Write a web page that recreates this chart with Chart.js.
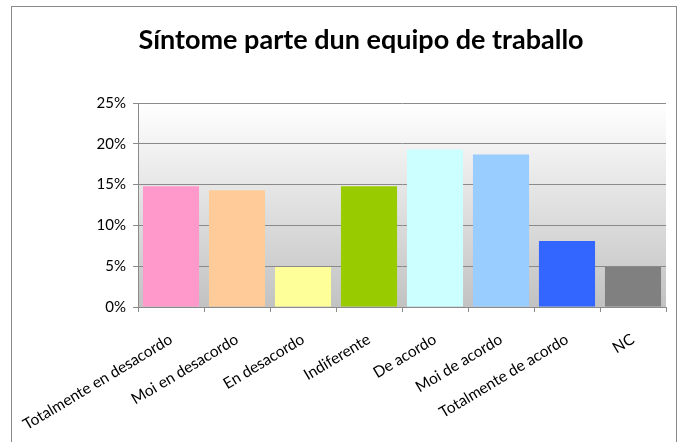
<!DOCTYPE html>
<html>
<head>
<meta charset="utf-8">
<script src="https://cdn.jsdelivr.net/npm/chart.js@4.4.1/dist/chart.umd.min.js"></script>
<style>
  html, body { margin: 0; padding: 0; background: #fff; overflow: hidden; }
  #box {
    position: absolute; left: 11px; top: 6px;
    width: 664px; height: 440px;
    border: 1px solid #8a8a8a; border-bottom: none;
  }
</style>
</head>
<body>
<div id="box"><canvas id="chart"></canvas></div>
<script>
const chartTitle = "Síntome parte dun equipo de traballo";
const categories = [
  "Totalmente en desacordo",
  "Moi en desacordo",
  "En desacordo",
  "Indiferente",
  "De acordo",
  "Moi de acordo",
  "Totalmente de acordo",
  "NC",
];
const values = [14.8, 14.3, 4.9, 14.8, 19.3, 18.7, 8.1, 4.9];
const barColors = ["#FF99CC", "#FFCC99", "#FFFF99", "#99CC00", "#CCFFFF", "#99CCFF", "#3366FF", "#808080"];
const yTicks = [0, 5, 10, 15, 20, 25];

// plot area gradient like the spreadsheet
const plotBackground = {
  id: "plotBackground",
  beforeDraw(chart) {
    const { ctx, chartArea: a } = chart;
    const g = ctx.createLinearGradient(0, a.top, 0, a.bottom);
    g.addColorStop(0, "#ffffff");
    g.addColorStop(1, "#c2c2c2");
    ctx.save();
    ctx.fillStyle = g;
    ctx.fillRect(a.left, a.top, a.right - a.left, a.bottom - a.top);
    ctx.restore();
  },
};

const titleText = {
  id: "titleText",
  afterDraw(chart) {
    const ctx = chart.ctx;
    ctx.save();
    ctx.font = "bold 27px Lato";
    ctx.fillStyle = "#000";
    ctx.textAlign = "center";
    ctx.textBaseline = "middle";
    ctx.fillText(chartTitle, 349, 33);
    ctx.restore();
  },
};

let canvElement = document.getElementById("chart");
canvElement.parentNode.style.width = "664px";

new Chart(canvElement, {
  type: "bar",
  data: {
    labels: categories,
    datasets: [
      {
        data: values,
        backgroundColor: barColors,
        borderWidth: 0,
        categoryPercentage: 1,
        barPercentage: 0.85,
      },
    ],
  },
  options: {
    responsive: true,
    maintainAspectRatio: false,
    animation: false,
    layout: { padding: { top: 96, left: 0, right: 10, bottom: 0 } },
    plugins: {
      legend: { display: false },
      title: { display: false },
      tooltip: { enabled: false },
    },
    scales: {
      x: {
        offset: true,
        afterFit: (s) => {
          s.height = 140;
          s.paddingLeft = 0;
          s.paddingRight = 0;
        },
        grid: {
          offset: true,
          drawOnChartArea: false,
          drawTicks: true,
          tickLength: 5,
          color: "#8a8a8a",
        },
        border: { color: "#8a8a8a", width: 1 },
        ticks: {
          minRotation: 31,
          maxRotation: 31,
          autoSkip: false,
          padding: 18,
          color: "#000",
          font: { family: "Lato", size: 15.5 },
        },
      },
      y: {
        min: 0,
        max: 25,
        afterFit: (s) => { s.width = 126; },
        afterBuildTicks: (s) => { s.ticks = yTicks.map((v) => ({ value: v })); },
        grid: {
          color: "#8a8a8a",
          lineWidth: 1,
          drawTicks: true,
          tickLength: 5,
        },
        border: { color: "#8a8a8a", width: 1 },
        ticks: {
          padding: 7,
          color: "#000",
          font: { family: "Lato", size: 15 },
          callback: (v) => v + "%",
        },
      },
    },
  },
  plugins: [plotBackground, titleText],
});
</script>
</body>
</html>
